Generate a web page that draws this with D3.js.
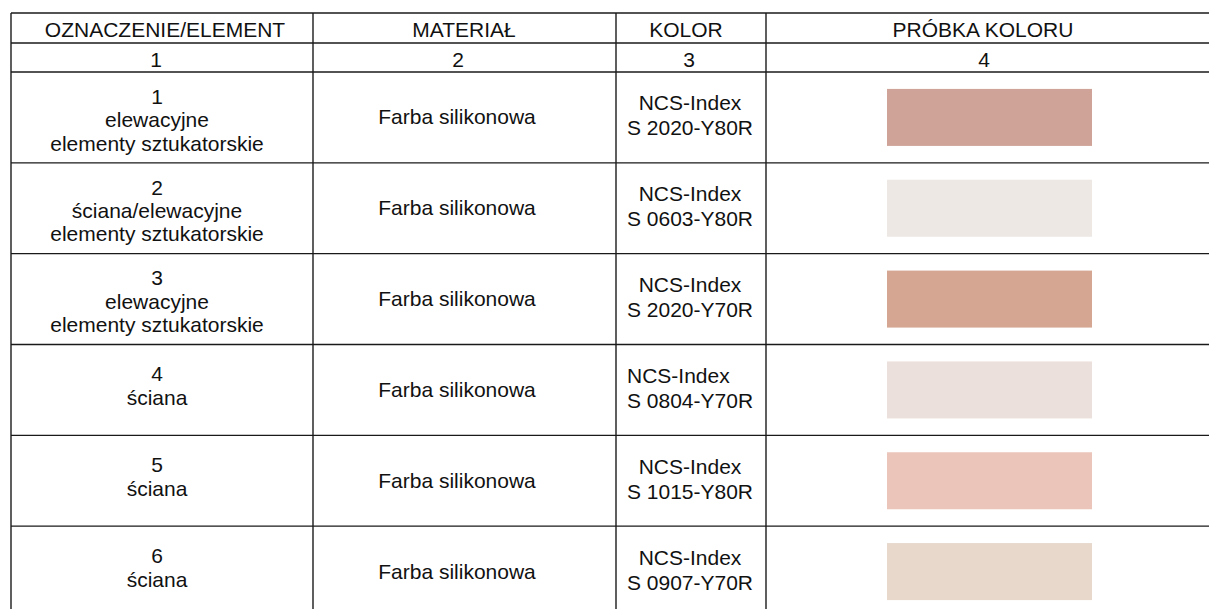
<!DOCTYPE html>
<html>
<head>
<meta charset="utf-8">
<script src="https://cdn.jsdelivr.net/npm/d3@7"></script>
<style>
  html, body { margin: 0; padding: 0; background: #fff; }
  svg text { font-family: "Liberation Sans", Arial, Helvetica, sans-serif; fill: #111; }
</style>
</head>
<body>
<svg width="1209" height="609"></svg>
<script>
// table content
const headers = ["OZNACZENIE/ELEMENT", "MATERIAŁ", "KOLOR", "PRÓBKA KOLORU"];
const numbers = ["1", "2", "3", "4"];
const oznaczenie = [
  ["1", "elewacyjne", "elementy sztukatorskie"],
  ["2", "ściana/elewacyjne", "elementy sztukatorskie"],
  ["3", "elewacyjne", "elementy sztukatorskie"],
  ["4", "ściana"],
  ["5", "ściana"],
  ["6", "ściana"]
];
const material = ["Farba silikonowa", "Farba silikonowa", "Farba silikonowa",
                  "Farba silikonowa", "Farba silikonowa", "Farba silikonowa"];
const kolor = [
  ["NCS-Index", "S 2020-Y80R"],
  ["NCS-Index", "S 0603-Y80R"],
  ["NCS-Index", "S 2020-Y70R"],
  ["NCS-Index", "S 0804-Y70R"],
  ["NCS-Index", "S 1015-Y80R"],
  ["NCS-Index", "S 0907-Y70R"]
];
const probka = ["#cfa397", "#ede8e4", "#d5a793", "#ece0dc", "#ebc5b9", "#e8d7cb"];

const svg = d3.select("svg");
const fs = 20, sx = 1.05;

// layout
let colEdges = [11, 313, 616, 766, 1225];
let rowY = d3.scaleBand().domain(d3.range(oznaczenie.length)).range([72, 617]);
let headTop = 13, numTop = 43;

function txt(g, s, x, y, anchor) {
  g.append("text")
    .attr("transform", "translate(" + x + "," + y + ") scale(" + sx + ",1)")
    .attr("text-anchor", anchor || "middle")
    .attr("font-size", fs)
    .text(s);
}

// swatches
svg.append("g").selectAll("rect")
  .data(probka)
  .enter().append("rect")
    .attr("x", 887)
    .attr("width", 205)
    .attr("y", (d, i) => rowY(i) + rowY.bandwidth() / 2 - 28.5)
    .attr("height", 57)
    .attr("fill", d => d);

let t = svg.append("g");

// header row + numbering row
const headX = [165, 464, 686, 983];
const numX = [156, 458, 689, 984];
headers.forEach((h, i) => txt(t, h, headX[i], headTop + 24));
numbers.forEach((n, i) => txt(t, n, numX[i], numTop + 24));

// data rows
oznaczenie.forEach((lines, i) => {
  let c = rowY(i) + rowY.bandwidth() / 2;
  let k = lines.length == 3 ? 9.7 : 3.5;
  let step = lines.length == 3 ? 23.4 : 24;
  lines.forEach((s, j) => txt(t, s, 157, c + k + (j - (lines.length - 1) / 2) * step));
});

material.forEach((s, i) => {
  let c = rowY(i) + rowY.bandwidth() / 2;
  txt(t, s, 457, c + 7);
});

kolor.forEach((lines, i) => {
  let c = rowY(i) + rowY.bandwidth() / 2;
  lines.forEach((s, j) => {
    let y = c + 5.5 + (j - 0.5) * 25;
    // the 4th row is left-set in the source drawing
    if (i == 3) txt(t, s, 627, y, "start");
    else txt(t, s, 690, y);
  });
});

// grid lines
let grid = svg.append("g").attr("stroke", "#1a1a1a").attr("stroke-width", 1.4);
let hLines = [headTop, numTop].concat(d3.range(oznaczenie.length + 1).map(i => i < oznaczenie.length ? rowY(i) : 617));
grid.selectAll("line.h")
  .data(hLines)
  .enter().append("line")
    .attr("x1", colEdges[0]).attr("x2", colEdges[4])
    .attr("y1", d => d).attr("y2", d => d);
grid.selectAll("line.v")
  .data(colEdges)
  .enter().append("line")
    .attr("x1", d => d).attr("x2", d => d)
    .attr("y1", headTop).attr("y2", 617);
</script>
</body>
</html>
